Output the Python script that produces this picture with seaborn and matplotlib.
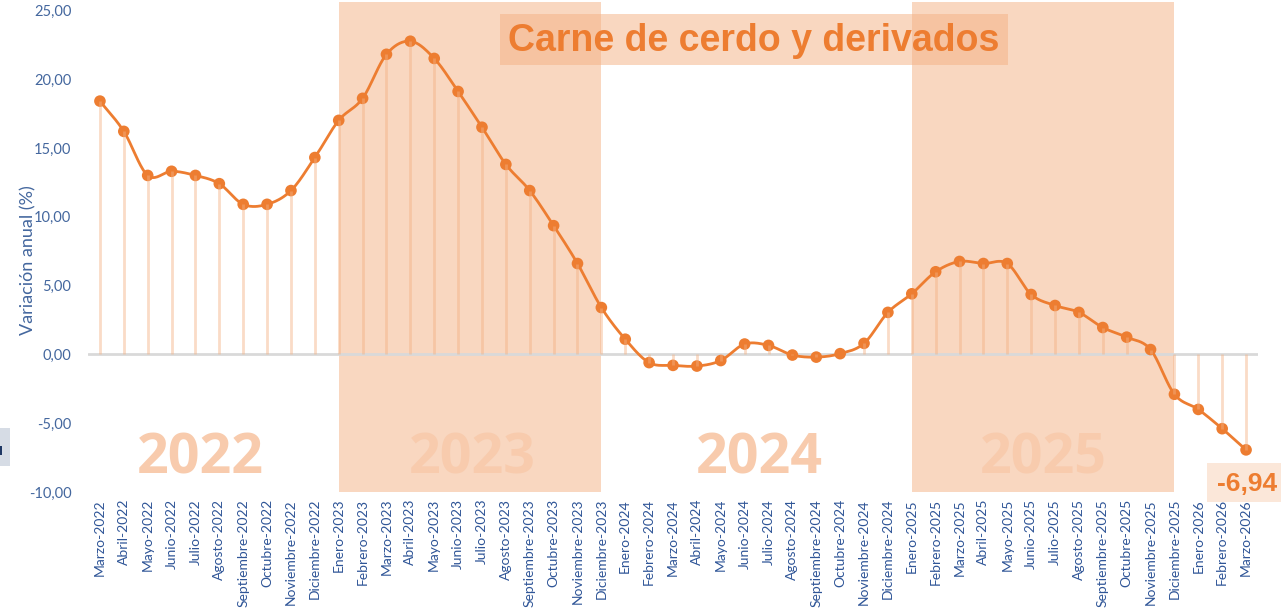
import numpy as np
import pandas as pd
import matplotlib
matplotlib.use("Agg")
import matplotlib.pyplot as plt
import seaborn as sns
from matplotlib.patches import Rectangle

meses = ["Marzo-2022", "Abril-2022", "Mayo-2022", "Junio-2022", "Julio-2022", "Agosto-2022",
         "Septiembre-2022", "Octubre-2022", "Noviembre-2022", "Diciembre-2022",
         "Enero-2023", "Febrero-2023", "Marzo-2023", "Abril-2023", "Mayo-2023", "Junio-2023",
         "Julio-2023", "Agosto-2023", "Septiembre-2023", "Octubre-2023", "Noviembre-2023", "Diciembre-2023",
         "Enero-2024", "Febrero-2024", "Marzo-2024", "Abril-2024", "Mayo-2024", "Junio-2024",
         "Julio-2024", "Agosto-2024", "Septiembre-2024", "Octubre-2024", "Noviembre-2024", "Diciembre-2024",
         "Enero-2025", "Febrero-2025", "Marzo-2025", "Abril-2025", "Mayo-2025", "Junio-2025",
         "Julio-2025", "Agosto-2025", "Septiembre-2025", "Octubre-2025", "Noviembre-2025", "Diciembre-2025",
         "Enero-2026", "Febrero-2026", "Marzo-2026"]

valores = [18.4, 16.2, 13.0, 13.3, 13.0, 12.4, 10.9, 10.9, 11.9, 14.3,
           17.0, 18.6, 21.8, 22.75, 21.5, 19.1, 16.5, 13.8, 11.9, 9.35, 6.6, 3.4,
           1.1, -0.6, -0.8, -0.85, -0.45, 0.75, 0.65, -0.05, -0.2, 0.05, 0.8, 3.05,
           4.4, 6.0, 6.75, 6.6, 6.6, 4.35, 3.55, 3.05, 1.95, 1.25, 0.35, -2.9,
           -4.0, -5.4, -6.94]

anios = ["2022", "2023", "2024", "2025"]
anios_x = [4.2, 15.6, 27.6, 39.5]
periodos_sombreados = [("Enero-2023", "Diciembre-2023"), ("Enero-2025", "Diciembre-2025")]
y_ticks = [-10, -5, 0, 5, 10, 15, 20, 25]

titulo = "Carne de cerdo y derivados"
ylabel = "Variación anual (%)"

NARANJA = "#ED7D31"
SOMBRA = "#F4B183"
AZUL = "#44679E"

df = pd.DataFrame({"idx": np.arange(len(meses)), "mes": meses, "valor": valores})

sns.set_theme(style="white")
plt.rcParams["font.family"] = ["Lato", "DejaVu Sans"]

W, H = 1281, 610
fig = plt.figure(figsize=(W / 100, H / 100), dpi=100)
ax = fig.add_axes([88 / W, 118 / H, 1170 / W, 490 / H])
ax.set_xlim(-0.5, 48.5)
ax.set_ylim(-10, 25.6)

# shaded periods
for a, b in periodos_sombreados:
    ax.axvspan(meses.index(a), meses.index(b), color=SOMBRA, alpha=0.5, lw=0, zorder=0)

# year labels
for lab, xp in zip(anios, anios_x):
    ax.text(xp, -7.6, lab, ha="center", va="center", fontsize=40, fontweight="bold",
            family=["Open Sans", "DejaVu Sans"], color="#F8CBAD", zorder=0.5)

# zero line
ax.axhline(0, color="#D9D9D9", lw=2, zorder=1)


# smooth curve (Catmull-Rom through the data points)
def catmull_rom(x, y, n=20):
    pts = np.column_stack([x, y]).astype(float)
    P = np.vstack([2 * pts[0] - pts[1], pts, 2 * pts[-1] - pts[-2]])
    out = []
    t = np.linspace(0, 1, n, endpoint=False)[:, None]
    for i in range(1, len(P) - 2):
        p0, p1, p2, p3 = P[i - 1], P[i], P[i + 1], P[i + 2]
        seg = 0.5 * ((2 * p1) + (-p0 + p2) * t + (2 * p0 - 5 * p1 + 4 * p2 - p3) * t ** 2
                     + (-p0 + 3 * p1 - 3 * p2 + p3) * t ** 3)
        out.append(seg)
    out.append(P[-2][None])
    return np.vstack(out)


curve = catmull_rom(df["idx"].values, df["valor"].values)
ax.plot(curve[:, 0], curve[:, 1], color=NARANJA, lw=2, zorder=3, solid_capstyle="round")

sns.scatterplot(data=df, x="idx", y="valor", color=NARANJA, s=70, edgecolor="none",
                zorder=4, ax=ax, legend=False)

# stems
ax.vlines(df["idx"], 0, df["valor"], color=SOMBRA, alpha=0.45, lw=2, zorder=5)

# ticks
ax.set_xticks(df["idx"])
ax.set_xticklabels(meses, rotation=90, fontsize=10, color="#2F5597")
ax.set_yticks(y_ticks)
ax.set_yticklabels([f"{v:.2f}".replace(".", ",") for v in y_ticks], fontsize=10.5, color=AZUL)
ax.tick_params(axis="both", length=0)
ax.tick_params(axis="y", pad=12)
ax.tick_params(axis="x", pad=5)
ax.set_xlabel("")
ax.set_ylabel("")
for s in ax.spines.values():
    s.set_visible(False)
ax.grid(False)

fig.text(28 / W, 1 - 260 / H, ylabel, rotation=90, ha="center", va="center",
         fontsize=13, color=AZUL)

# title box
fig.patches.append(Rectangle((500 / W, 1 - 65 / H), 508 / W, 51 / H, transform=fig.transFigure,
                             fc=SOMBRA, alpha=0.5, ec="none", zorder=2))
fig.text(754 / W, 1 - 41 / H, titulo, ha="center", va="center", fontsize=27,
         fontweight="bold", family=["Liberation Sans", "DejaVu Sans"], color=NARANJA, zorder=3)

# last value label
fig.patches.append(Rectangle((1207 / W, 1 - 502 / H), 80 / W, 39 / H, transform=fig.transFigure,
                             fc=SOMBRA, alpha=0.3, ec="none", zorder=2))
x_last, y_last = ax.transData.transform((df["idx"].iloc[-1], valores[-1]))
fig.text(x_last / W + 1 / W, (y_last - 34) / H, f"{valores[-1]:.2f}".replace(".", ","),
         ha="center", va="center", fontsize=19, fontweight="bold",
         family=["Liberation Sans", "DejaVu Sans"], color=NARANJA, zorder=3)

# small artifact at left edge
fig.patches.append(Rectangle((0, 1 - 466 / H), 10 / W, 38 / H, transform=fig.transFigure,
                             fc="#D6DCE5", ec="none", zorder=2))
fig.patches.append(Rectangle((0, 1 - 455 / H), 2 / W, 9 / H, transform=fig.transFigure,
                             fc="#1F3864", ec="none", zorder=2))

fig.savefig("out.png", dpi=100, facecolor="white")
